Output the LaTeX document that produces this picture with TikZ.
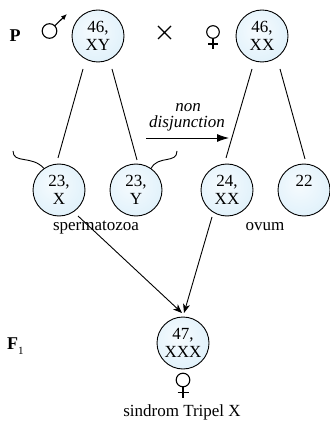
\documentclass[tikz,border=0pt]{standalone}
\usepackage{fontspec}
\setmainfont{Liberation Serif}
\usetikzlibrary{arrows.meta,backgrounds}
\definecolor{cellin}{RGB}{246,251,254}
\definecolor{cellmid}{RGB}{226,242,251}
\definecolor{cellout}{RGB}{182,224,246}
\pgfdeclareradialshading{cellshade}{\pgfpoint{-5bp}{6bp}}{color(0bp)=(cellin); color(28bp)=(cellmid); color(46bp)=(cellout); color(100bp)=(cellout)}
\tikzset{
  cell/.style={circle,draw=black,line width=0.9pt,minimum size=52pt,inner sep=0pt,
    shading=cellshade,align=center,
    font=\fontsize{17}{18.5}\selectfont},
  lbl/.style={font=\fontsize{17}{19}\selectfont,inner sep=0pt},
  conn/.style={line width=0.9pt},
  arr/.style={line width=0.9pt,-{Stealth[length=9pt,width=7pt,inset=2.5pt]}},
  sym/.style={line width=1.1pt},
  gen/.style={font=\fontsize{18}{20}\selectfont\bfseries,inner sep=0pt}
}
\begin{document}
\begin{tikzpicture}[x=1pt,y=-1pt]
\useasboundingbox (0,0) rectangle (329,427);
% parents
\node[cell] (pm) at (98,36) {46,\\XY};
\node[cell] (pf) at (262,36) {46,\\XX};
% gametes
\node[cell] (gx) at (59,190) {23,\\X};
\node[cell] (gy) at (136,190) {23,\\Y};
\node[cell] (gxx) at (227,190) {24,\\XX};
\node[cell] (g22) at (304,190) {22\\\phantom{X}};
% offspring
\node[cell] (f1) at (183,343) {47,\\XXX};
% braces behind sperm cells
\begin{pgfonlayer}{background}
\draw[conn] (13,151) .. controls (13,164) and (32,155) .. (gx.125);
\draw[conn] (177,151) .. controls (177,164) and (158,155) .. (gy.55);
\end{pgfonlayer}
% meiosis lines
\draw[conn] ([shift={(-15,33)}]pm.center) -- ([shift={(-1,-32)}]gx.center);
\draw[conn] ([shift={(14,33)}]pm.center) -- ([shift={(1,-30)}]gy.center);
\draw[conn] ([shift={(-10,33)}]pf.center) -- ([shift={(-1,-32)}]gxx.center);
\draw[conn] ([shift={(18,33)}]pf.center) -- ([shift={(1,-31)}]g22.center);
% non disjunction
\coordinate (nd1) at (146,138);
\coordinate (nd2) at (229,138);
\draw[line width=0.9pt,-{Latex[length=12pt,width=8pt]}] (nd1) -- (nd2);
\node[lbl,font=\fontsize{17}{19}\selectfont\itshape,anchor=base] (ndt1) at (188,112) {non};
\node[lbl,font=\fontsize{17}{19}\selectfont\itshape,anchor=base] (ndt2) at (187,128) {disjunction};
% labels
\node[lbl,anchor=base] (sp) at (96,230) {spermatozoa};
\node[lbl,anchor=base] (ov) at (265,230) {ovum};
\node[lbl,anchor=base] (sx) at (182,416) {sindrom Tripel X};
% fertilisation arrows
\draw[arr] ([shift={(19,26)}]gx.center) -- ([shift={(-1,-30)}]f1.center);
\draw[arr] ([shift={(-15,27)}]gxx.center) -- ([shift={(1,-30)}]f1.center);
% generation labels
\node[gen,anchor=base] (P) at (15,42) {P};
\node[gen,anchor=base west] (F) at (7,349) {F\raisebox{-5pt}{\fontsize{11}{11}\selectfont\mdseries 1}};
% male symbol
\draw[sym] (49.5,31) circle (7.3);
\draw[sym,-{Latex[length=6pt,width=5pt]}] (54.8,25.7) -- (67,14);
% cross
\draw[sym] (158,26) -- (171,39) (158,39) -- (171,26);
% female symbol parent
\draw[sym] (213,32) circle (6.3);
\draw[sym] (213,38.3) -- (213,49) (208,44) -- (218,44);
% female symbol F1
\draw[sym] ([shift={(0,37)}]f1.center) circle (6.8);
\draw[sym] ([shift={(0,43.8)}]f1.center) -- ([shift={(0,55)}]f1.center)
  ([shift={(-5.5,49.5)}]f1.center) -- ([shift={(5.5,49.5)}]f1.center);
\end{tikzpicture}
\end{document}
